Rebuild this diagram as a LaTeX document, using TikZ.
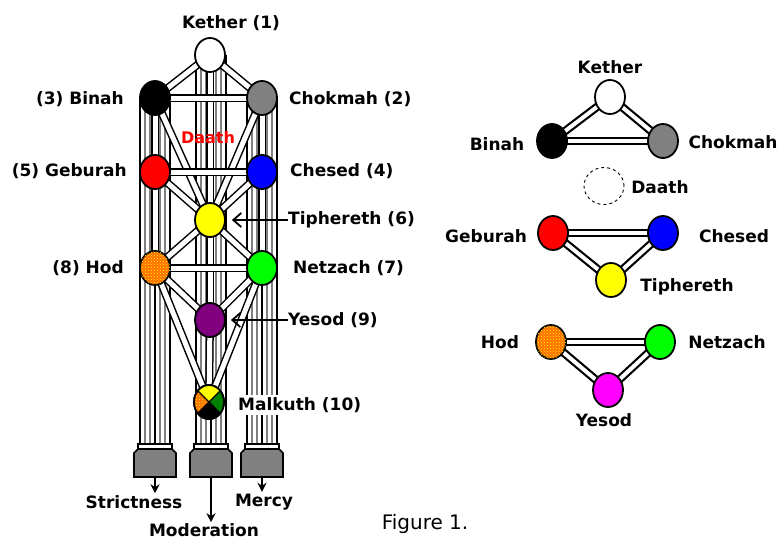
\documentclass[tikz,border=0pt]{standalone}
\usepackage{fontspec}
\setmainfont{DejaVu Sans}
\usetikzlibrary{shapes.geometric,arrows.meta,patterns}
\definecolor{cgray}{RGB}{128,128,128}
\definecolor{cred}{RGB}{255,0,0}
\definecolor{cblue}{RGB}{0,0,255}
\definecolor{cyellow}{RGB}{255,255,0}
\definecolor{cgreen}{RGB}{0,255,0}
\definecolor{cdkgreen}{RGB}{0,128,0}
\definecolor{cpurple}{RGB}{128,0,128}
\definecolor{cmagenta}{RGB}{255,0,255}
\definecolor{corange}{RGB}{255,110,0}
\pgfdeclarelayer{bg}
\pgfsetlayers{bg,main}
\begin{document}
\begin{tikzpicture}[x=1pt,y=-1pt,
  sef/.style={ellipse, draw=black, line width=1.8pt, minimum width=30pt, minimum height=34pt, inner sep=0pt},
  hodfill/.style={fill=corange, postaction={pattern=crosshatch dots, pattern color=yellow}},
  pth/.style={draw=black, line width=1.5pt, double=white, double distance=5pt},
  rpth/.style={draw=black, line width=2.2pt, double=white, double distance=4pt},
  lbl/.style={font=\bfseries\fontsize{17}{20}\selectfont, inner sep=0pt},
  ptr/.style={-{Straight Barb[length=8pt,width=14pt,line width=1.8pt]}, line width=1.5pt},
  down/.style={-{Stealth[length=9pt,width=9pt]}, line width=1.5pt}
]
\useasboundingbox (0,0) rectangle (778,539);

% ---------- left tree: sephiroth ----------
\node[sef, fill=white]   (lk)  at (210,55)  {};
\node[sef, fill=black]   (lb)  at (155,98)  {};
\node[sef, fill=cgray]   (lc)  at (262,98)  {};
\node[sef, fill=cred]    (lg)  at (155,172) {};
\node[sef, fill=cblue]   (lch) at (262,172) {};
\node[sef, fill=cyellow] (lt)  at (210,220) {};
\node[sef, hodfill]      (lh)  at (155,268) {};
\node[sef, fill=cgreen]  (ln)  at (262,268) {};
\node[sef, fill=cpurple] (ly)  at (210,320) {};
\node[sef]               (lm)  at (209,402) {};
\begin{scope}
  \clip (lm.center) ellipse [x radius=15, y radius=17];
  \fill[cyellow]  (lm.center) -- ++(-30,-30) -- ++(60,0) -- cycle;
  \fill[cdkgreen] (lm.center) -- ++(30,-30) -- ++(0,60) -- cycle;
  \fill[black]    (lm.center) -- ++(30,30) -- ++(-60,0) -- cycle;
  \fill[corange]  (lm.center) -- ++(-30,30) -- ++(0,-60) -- cycle;
  \fill[pattern=crosshatch dots, pattern color=yellow] (lm.center) -- ++(-30,30) -- ++(0,-60) -- cycle;
  \draw[line width=1.2pt] (lm.center) ++(-30,-30) -- ++(60,60);
  \draw[line width=1.2pt] (lm.center) ++(-30,30) -- ++(60,-60);
\end{scope}
\draw[line width=1.8pt] (lm.center) ellipse [x radius=15, y radius=17];

% ---------- pillars, bases and paths (behind) ----------
\begin{pgfonlayer}{bg}
  \foreach \c/\t in {155/98, 211/55, 262/98} {
    \foreach \o/\col/\w in {-15/black/1.6,-10/cgray/1.3,-5/cgray/1.3,0/black/1.3,5/cgray/1.3,10/cgray/1.3,15/black/1.6}
      \draw[\col, line width=\w pt] ({\c+(\o)},\t) -- ({\c+(\o)},446);
    \filldraw[fill=white, draw=black, line width=1.2pt] ({\c-17},444) rectangle ({\c+17},449);
    \filldraw[fill=cgray, draw=black, line width=1.6pt] ({\c-17},449) -- ({\c+17},449) -- ({\c+21},453)
      -- ({\c+21},477) -- ({\c-21},477) -- ({\c-21},453) -- cycle;
  }
  \foreach \a/\b in {lk/lb, lk/lc, lk/lt, lb/lc, lb/lg, lc/lch, lb/lt, lc/lt, lg/lch, lg/lt, lch/lt,
                     lg/lh, lch/ln, lt/lh, lt/ln, lt/ly, lh/ln, lh/ly, ln/ly, ly/lm, lh/lm, ln/lm}
    \draw[pth] (\a.center) -- (\b.center);
\end{pgfonlayer}
\coordinate (bl) at (155,477);
\coordinate (bm) at (211,477);
\coordinate (br) at (262,477);

% ---------- left labels ----------
\node[lbl] (lkl) at (231,23) {Kether (1)};
\node[lbl, anchor=east] (lbl3) at (124,99) {(3) Binah};
\node[lbl, anchor=west] (lcl) at (289,99) {Chokmah (2)};
\node[lbl, text=cred, font=\bfseries\fontsize{16}{19}\selectfont] (ldl) at (208,138) {Daath};
\node[lbl, anchor=east] (lgl) at (127,171) {(5) Geburah};
\node[lbl, anchor=west] (lchl) at (290,171) {Chesed (4)};
\node[lbl, anchor=west] (ltl) at (288,220) {Tiphereth (6)};
\node[lbl, anchor=east] (lhl) at (124,268) {(8) Hod};
\node[lbl, anchor=west] (lnl) at (293,268) {Netzach (7)};
\node[lbl, anchor=west] (lyl) at (288,320) {Yesod (9)};
\node[lbl, anchor=west, fill=white, inner xsep=1pt, inner ysep=2pt] (lml) at (237,405) {Malkuth (10)};
\draw[ptr, shorten >=6pt] (ltl.west) -- (lt.east);
\draw[ptr, shorten >=5pt] (lyl.west) -- (ly.east);

\node[lbl] (strict) at (134,502) {Strictness};
\node[lbl] (mercy)  at (264,502) {Mercy};
\node[lbl] (moder)  at (204,530) {Moderation};
\draw[down, shorten >=2pt] (bl) -- (bl |- strict.north);
\draw[down, shorten >=2pt] (br) -- (br |- mercy.north);
\draw[down, shorten >=1pt] (bm) -- (bm |- moder.north);

\node[font=\fontsize{20}{24}\selectfont, inner sep=0pt] (fig) at (425,524) {Figure 1.};

% ---------- right diagram ----------
\node[sef, fill=white]    (rk)  at (610,97)  {};
\node[sef, fill=black]    (rb)  at (552,141) {};
\node[sef, fill=cgray]    (rc)  at (663,141) {};
\node[ellipse, draw=black, dashed, line width=0.9pt, minimum width=40pt, minimum height=37pt, inner sep=0pt] (rd) at (604,186) {};
\node[sef, fill=cred]     (rg)  at (553,233) {};
\node[sef, fill=cblue]    (rch) at (663,233) {};
\node[sef, fill=cyellow]  (rt)  at (611,280) {};
\node[sef, hodfill]       (rh)  at (551,342) {};
\node[sef, fill=cgreen]   (rn)  at (660,342) {};
\node[sef, fill=cmagenta] (ry)  at (608,390) {};
\begin{pgfonlayer}{bg}
  \foreach \a/\b in {rk/rb, rk/rc, rb/rc, rg/rch, rg/rt, rch/rt, rh/rn, rh/ry, rn/ry}
    \draw[rpth] (\a.center) -- (\b.center);
\end{pgfonlayer}

\node[lbl] (rkl)  at (610,67)  {Kether};
\node[lbl] (rbl)  at (497,144) {Binah};
\node[lbl] (rcl)  at (733,142) {Chokmah};
\node[lbl] (rdl)  at (660,187) {Daath};
\node[lbl] (rgl)  at (486,236) {Geburah};
\node[lbl] (rchl) at (734,236) {Chesed};
\node[lbl] (rtl)  at (687,287) {Tiphereth};
\node[lbl] (rhl)  at (500,342) {Hod};
\node[lbl] (rnl)  at (727,342) {Netzach};
\node[lbl] (ryl)  at (604,420) {Yesod};
\end{tikzpicture}
\end{document}
